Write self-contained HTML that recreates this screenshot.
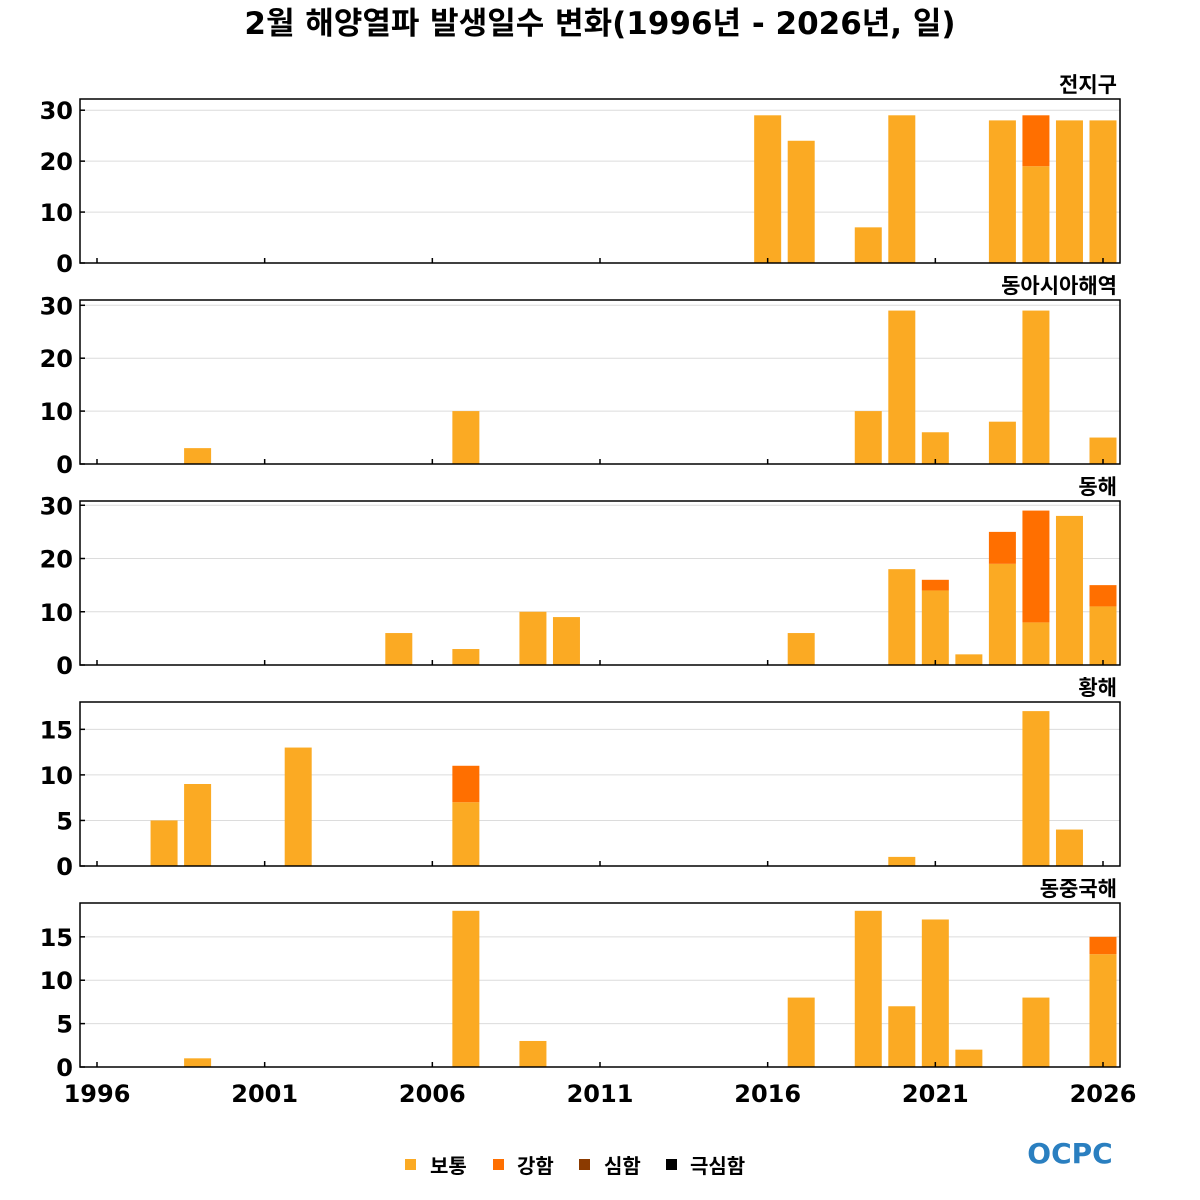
<!DOCTYPE html>
<html><head><meta charset="utf-8"><style>
html,body{margin:0;padding:0;background:#fff;width:1200px;height:1200px;overflow:hidden}
svg{display:block}
text{font-family:"DejaVu Sans","Noto Sans CJK KR",sans-serif}
</style></head><body>
<svg id="chart" width="1200" height="1200" xmlns="http://www.w3.org/2000/svg">
<text x="600" y="34" text-anchor="middle" font-size="31" font-weight="bold">2월 해양열파 발생일수 변화(1996년 - 2026년, 일)</text>
<g id="panels"></g>
<g>
<rect x="405" y="1159" width="11" height="11" fill="#FBAA23"/><text x="430" y="1173" font-size="20" font-weight="bold">보통</text>
<rect x="493" y="1159" width="11" height="11" fill="#FF6F00"/><text x="517" y="1173" font-size="20" font-weight="bold">강함</text>
<rect x="579" y="1159" width="11" height="11" fill="#8B3A00"/><text x="604" y="1173" font-size="20" font-weight="bold">심함</text>
<rect x="666" y="1159" width="11" height="11" fill="#000"/><text x="690" y="1173" font-size="20" font-weight="bold">극심함</text>
</g>
<text x="1070" y="1163" text-anchor="middle" font-size="28" font-weight="bold" fill="#2a7fc0">OCPC</text>
</svg>
<script>
const titles=["전지구","동아시아해역","동해","황해","동중국해"];
const normalYears=[
 [2016,2017,2019,2020,2023,2024,2025,2026],
 [1999,2007,2019,2020,2021,2023,2024,2026],
 [2005,2007,2009,2010,2017,2020,2021,2022,2023,2024,2025,2026],
 [1998,1999,2002,2007,2020,2024,2025],
 [1999,2007,2009,2017,2019,2020,2021,2022,2024,2026]];
const normalVals=[
 [29,24,7,29,28,19,28,28],
 [3,10,10,29,6,8,29,5],
 [6,3,10,9,6,18,14,2,19,8,28,11],
 [5,9,13,7,1,17,4],
 [1,18,3,8,18,7,17,2,8,13]];
const strongVals=[
 [0,0,0,0,0,10,0,0],
 [0,0,0,0,0,0,0,0],
 [0,0,0,0,0,0,2,0,6,21,0,4],
 [0,0,0,4,0,0,0],
 [0,0,0,0,0,0,0,0,0,2]];
const yTicks=[[0,10,20,30],[0,10,20,30],[0,10,20,30],[0,5,10,15],[0,5,10,15]];
const yMax=[32.2,31,30.8,18,18.9];
const xTicks=[1996,2001,2006,2011,2016,2021,2026];
const panelTop=[99,300,501,702,903], panelH=164, L=80, R=1120;
const NS="http://www.w3.org/2000/svg";
const g=document.getElementById("panels");
function xs(yr){return 97+(yr-1996)*(1006/30);}
function mk(tag,attrs,parent){const e=document.createElementNS(NS,tag);for(const k in attrs)e.setAttribute(k,attrs[k]);parent.appendChild(e);return e;}
for(let p=0;p<5;p++){
 const top=panelTop[p],bot=top+panelH;
 const ys=v=>bot-v*panelH/yMax[p];
 const pg=mk("g",{},g);
 
 
 yTicks[p].forEach(t=>{
  if(t>0){const ln=mk("line",{x1:L,x2:R,y1:ys(t),y2:ys(t),stroke:"#dcdcdc","stroke-width":1},pg);
   }
  const tx=mk("text",{x:L-7,y:ys(t)+9,"text-anchor":"end","font-size":24,"font-weight":"bold"},pg);
  tx.textContent=t;
  
  mk("line",{x1:L,x2:L+5,y1:ys(t),y2:ys(t),stroke:"#000","stroke-width":1.5},pg);
 });
 normalYears[p].forEach((yr,i)=>{
  const n=normalVals[p][i],s=strongVals[p][i],x=xs(yr)-13.5;
  const r=mk("rect",{x:x,y:ys(n),width:27,height:bot-ys(n),fill:"#FBAA23"},pg);
  
  if(s>0){const r2=mk("rect",{x:x,y:ys(n+s),width:27,height:ys(n)-ys(n+s),fill:"#FF6F00"},pg);
   }
 });
 xTicks.forEach(yr=>{mk("line",{x1:xs(yr),x2:xs(yr),y1:bot,y2:bot-5,stroke:"#000","stroke-width":1.5},pg);});
 const fr=mk("rect",{x:L,y:top,width:R-L,height:panelH,fill:"none",stroke:"#000","stroke-width":1.5},pg);
 
 const tt=mk("text",{x:R-3,y:top-7,"text-anchor":"end","font-size":21,"font-weight":"bold"},pg);
 tt.textContent=titles[p];
 
 if(p==4){xTicks.forEach(yr=>{const t=mk("text",{x:xs(yr),y:bot+35,"text-anchor":"middle","font-size":24,"font-weight":"bold"},pg);
  t.textContent=yr;});}
}
</script>
</body></html>
